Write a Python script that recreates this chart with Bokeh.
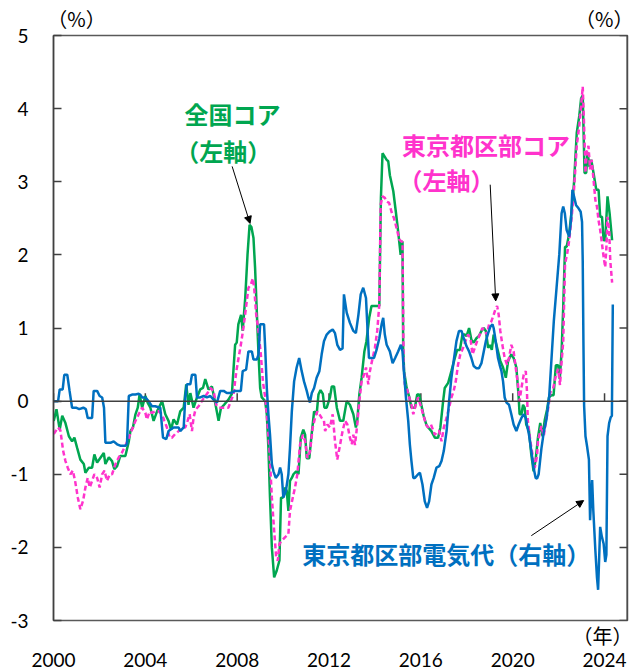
from bokeh.plotting import figure
from bokeh.models import Range1d, LinearAxis, FixedTicker, Label, Arrow, NormalHead, Span
from bokeh.embed import file_html
from bokeh.resources import INLINE

# ---- data (decimal year, % yoy) ----
x_ticks = [2000, 2004, 2008, 2012, 2016, 2020, 2024]
x_labels = ["2000", "2004", "2008", "2012", "2016", "2020", "2024"]
y_ticks = [-3, -2, -1, 0, 1, 2, 3, 4, 5]
y_labels = ["-3", "-2", "-1", "0", "1", "2", "3", "4", "5"]

green_x = [2000.01, 2000.13, 2000.27, 2000.38, 2000.52, 2000.67, 2000.81, 2000.91, 2001.03, 2001.17,
           2001.32, 2001.39, 2001.54, 2001.68, 2001.78, 2001.90, 2002.19, 2002.26, 2002.41, 2002.55,
           2002.65, 2002.77, 2002.91, 2003.13, 2003.28, 2003.35, 2003.46, 2003.57, 2003.67, 2003.75,
           2003.86, 2004.00, 2004.10, 2004.22, 2004.36, 2004.51, 2004.73, 2004.87, 2005.01, 2005.12,
           2005.23, 2005.38, 2005.52, 2005.67, 2005.78, 2005.88, 2005.96, 2006.10, 2006.25, 2006.39,
           2006.51, 2006.61, 2006.75, 2006.90, 2007.04, 2007.19, 2007.29, 2007.43, 2007.62, 2007.77,
           2007.91, 2007.98, 2008.05, 2008.17, 2008.24, 2008.35, 2008.45, 2008.54, 2008.62, 2008.71,
           2008.78, 2008.86, 2008.93, 2009.00, 2009.07, 2009.22, 2009.29, 2009.36, 2009.43, 2009.51,
           2009.61, 2009.72, 2009.84, 2009.91, 2009.99, 2010.09, 2010.16, 2010.23, 2010.30, 2010.38,
           2010.45, 2010.57, 2010.67, 2010.77, 2010.88, 2010.96, 2011.03, 2011.14, 2011.24, 2011.35,
           2011.46, 2011.54, 2011.63, 2011.73, 2011.80, 2011.90, 2012.04, 2012.12, 2012.22, 2012.34,
           2012.48, 2012.62, 2012.77, 2012.91, 2013.06, 2013.17, 2013.23, 2013.32, 2013.42, 2013.54,
           2013.63, 2013.75, 2013.85, 2014.07, 2014.19, 2014.26, 2014.33, 2014.43, 2014.51, 2014.58,
           2014.65, 2014.80, 2014.91, 2015.01, 2015.12, 2015.16, 2015.20, 2015.23, 2015.27, 2015.38,
           2015.50, 2015.59, 2015.74, 2015.84, 2015.93, 2016.02, 2016.12, 2016.25, 2016.32, 2016.46,
           2016.61, 2016.75, 2016.85, 2016.97, 2017.04, 2017.19, 2017.33, 2017.48, 2017.58, 2017.70,
           2017.81, 2017.91, 2017.99, 2018.10, 2018.20, 2018.30, 2018.42, 2018.53, 2018.64, 2018.74,
           2018.83, 2018.93, 2019.01, 2019.09, 2019.17, 2019.29, 2019.36, 2019.46, 2019.58, 2019.70,
           2019.80, 2019.94, 2020.04, 2020.16, 2020.26, 2020.30, 2020.38, 2020.45, 2020.52, 2020.59,
           2020.71, 2020.81, 2020.91, 2021.00, 2021.10, 2021.20, 2021.30, 2021.40, 2021.50, 2021.58,
           2021.68, 2021.78, 2021.88, 2021.98, 2022.05, 2022.13, 2022.20, 2022.28, 2022.35, 2022.46,
           2022.57, 2022.67, 2022.79, 2022.90, 2022.98, 2023.05, 2023.13, 2023.20, 2023.26, 2023.35,
           2023.42, 2023.52, 2023.64, 2023.74, 2023.81, 2023.89, 2023.96, 2024.03, 2024.13, 2024.22,
           2024.33]
green_y = [-0.27, -0.11, -0.39, -0.20, -0.30, -0.48, -0.55, -0.50, -0.64, -0.80,
           -0.86, -0.98, -0.91, -0.91, -0.73, -0.84, -0.71, -0.86, -0.77, -0.82,
           -0.93, -0.89, -0.75, -0.75, -0.55, -0.41, -0.36, -0.18, -0.09, 0.09,
           -0.09, 0.07, -0.02, -0.09, -0.27, -0.14, 0.00, -0.18, -0.27, -0.39,
           -0.25, -0.32, -0.14, -0.09, 0.23, -0.05, 0.11, -0.09, 0.05, 0.16,
           0.18, 0.30, 0.16, 0.20, -0.02, -0.27, -0.10, -0.05, 0.02, 0.10,
           0.77, 0.80, 1.05, 1.18, 0.96, 1.41, 2.00, 2.41, 2.38, 2.23,
           1.82, 1.18, 0.64, 0.18, 0.05, 0.00, -0.18, -0.64, -1.32, -2.00,
           -2.41, -2.32, -2.18, -1.32, -1.32, -1.18, -1.23, -1.50, -1.09, -1.05,
           -1.00, -0.96, -1.00, -0.50, -0.39, -0.46, -0.78, -0.78, -0.46, -0.14,
           -0.18, 0.09, 0.15, 0.10, -0.09, -0.09, 0.05, 0.20, 0.20, -0.09,
           -0.27, -0.27, 0.00, -0.05, -0.18, -0.36, -0.27, 0.09, 0.32, 0.68,
           0.82, 1.14, 1.30, 1.30, 1.30, 2.78, 3.39, 3.34, 3.30, 3.28,
           3.09, 2.87, 2.59, 2.32, 2.00, 2.18, 2.18, 0.73, 0.41, 0.18,
           0.05, -0.09, -0.09, 0.09, 0.09, -0.05, -0.20, -0.33, -0.36, -0.41,
           -0.50, -0.50, -0.36, 0.00, 0.18, 0.25, 0.41, 0.59, 0.70, 0.70,
           0.91, 0.91, 0.89, 1.00, 0.84, 0.80, 0.86, 0.89, 0.96, 1.00,
           0.96, 0.73, 0.77, 0.70, 0.91, 0.77, 0.68, 0.55, 0.46, 0.32,
           0.55, 0.64, 0.59, 0.46, 0.05, -0.18, -0.18, -0.05, -0.09, -0.32,
           -0.41, -0.73, -0.96, -0.80, -0.50, -0.30, -0.48, -0.25, -0.11, 0.05,
           0.08, 0.08, 0.49, 0.49, 0.30, 0.68, 1.28, 2.11, 2.11, 2.29,
           2.61, 2.98, 3.67, 3.90, 4.14, 4.18, 3.12, 3.12, 3.40, 3.20,
           3.30, 3.12, 2.89, 2.89, 2.52, 2.52, 2.20, 2.20, 2.80, 2.57,
           2.20]

pink_x = [2000.01, 2000.20, 2000.30, 2000.42, 2000.52, 2000.62, 2000.74, 2000.84, 2000.94, 2001.06,
          2001.17, 2001.29, 2001.39, 2001.49, 2001.58, 2001.68, 2001.78, 2001.90, 2002.01, 2002.12,
          2002.22, 2002.33, 2002.45, 2002.55, 2002.70, 2002.84, 2002.99, 2003.13, 2003.28, 2003.42,
          2003.57, 2003.71, 2003.86, 2004.00, 2004.07, 2004.19, 2004.29, 2004.43, 2004.58, 2004.73,
          2004.83, 2004.94, 2005.06, 2005.16, 2005.30, 2005.45, 2005.59, 2005.74, 2005.84, 2005.93,
          2006.03, 2006.10, 2006.18, 2006.32, 2006.46, 2006.61, 2006.71, 2006.83, 2006.97, 2007.09,
          2007.19, 2007.33, 2007.48, 2007.62, 2007.72, 2007.84, 2007.96, 2008.06, 2008.16, 2008.27,
          2008.38, 2008.49, 2008.59, 2008.68, 2008.74, 2008.83, 2008.93, 2009.03, 2009.12, 2009.22,
          2009.29, 2009.40, 2009.51, 2009.61, 2009.70, 2009.77, 2009.84, 2009.94, 2010.09, 2010.23,
          2010.30, 2010.42, 2010.52, 2010.62, 2010.74, 2010.86, 2010.96, 2011.06, 2011.17, 2011.29,
          2011.39, 2011.49, 2011.58, 2011.68, 2011.78, 2011.83, 2011.93, 2012.04, 2012.16, 2012.26,
          2012.36, 2012.48, 2012.59, 2012.70, 2012.80, 2012.91, 2012.99, 2013.06, 2013.13, 2013.23,
          2013.32, 2013.42, 2013.52, 2013.61, 2013.71, 2013.78, 2013.90, 2014.00, 2014.10, 2014.19,
          2014.25, 2014.33, 2014.43, 2014.51, 2014.62, 2014.72, 2014.83, 2014.94, 2015.06, 2015.16,
          2015.20, 2015.25, 2015.30, 2015.38, 2015.49, 2015.59, 2015.67, 2015.78, 2015.88, 2015.98,
          2016.10, 2016.22, 2016.32, 2016.44, 2016.61, 2016.71, 2016.80, 2016.90, 2017.00, 2017.12,
          2017.23, 2017.33, 2017.43, 2017.52, 2017.62, 2017.72, 2017.84, 2017.94, 2018.06, 2018.16,
          2018.25, 2018.35, 2018.45, 2018.57, 2018.68, 2018.78, 2018.88, 2018.97, 2019.07, 2019.17,
          2019.26, 2019.32, 2019.39, 2019.46, 2019.55, 2019.65, 2019.75, 2019.84, 2019.94, 2020.04,
          2020.13, 2020.23, 2020.30, 2020.38, 2020.48, 2020.57, 2020.62, 2020.66, 2020.77, 2020.88,
          2020.96, 2021.06, 2021.10, 2021.25, 2021.35, 2021.44, 2021.54, 2021.64, 2021.76, 2021.88,
          2021.98, 2022.06, 2022.13, 2022.20, 2022.28, 2022.37, 2022.46, 2022.57, 2022.67, 2022.79,
          2022.90, 2022.98, 2023.05, 2023.10, 2023.17, 2023.22, 2023.30, 2023.37, 2023.44, 2023.52,
          2023.60, 2023.67, 2023.74, 2023.81, 2023.89, 2023.96, 2024.03, 2024.08, 2024.13, 2024.20,
          2024.25, 2024.33]
pink_y = [-0.45, -0.36, -0.40, -0.68, -0.82, -0.91, -1.00, -0.95, -1.09, -1.32,
          -1.48, -1.36, -1.18, -1.05, -1.18, -1.09, -1.00, -1.05, -1.18, -1.00,
          -0.95, -1.09, -1.00, -1.00, -0.86, -0.77, -0.70, -0.61, -0.50, -0.39,
          -0.27, -0.18, -0.09, -0.16, -0.25, -0.14, -0.16, -0.14, -0.14, -0.18,
          -0.27, -0.36, -0.50, -0.50, -0.45, -0.41, -0.36, -0.36, -0.27, -0.18,
          -0.41, -0.23, -0.12, -0.07, 0.00, 0.07, 0.11, 0.18, 0.14, -0.05,
          -0.09, -0.09, -0.09, -0.09, 0.00, 0.09, 0.40, 0.59, 0.77, 1.00,
          1.27, 1.55, 1.59, 1.68, 1.55, 1.18, 0.95, 0.64, 0.27, 0.05,
          -0.18, -0.64, -1.32, -1.77, -2.14, -2.18, -1.95, -1.91, -1.86, -1.82,
          -1.50, -1.32, -1.18, -1.00, -0.59, -0.46, -0.55, -0.78, -0.69, -0.36,
          -0.23, -0.14, -0.18, -0.23, -0.27, -0.41, -0.32, -0.36, -0.18, -0.55,
          -0.80, -0.60, -0.41, -0.27, -0.32, -0.50, -0.59, -0.46, -0.60, -0.32,
          0.00, 0.27, 0.36, 0.46, 0.23, 0.41, 0.59, 0.73, 0.96, 1.32,
          2.69, 2.80, 2.78, 2.73, 2.71, 2.59, 2.50, 2.37, 2.21, 2.18,
          2.18, 0.50, 0.23, 0.18, 0.05, -0.05, -0.18, -0.05, 0.05, -0.05,
          -0.18, -0.32, -0.36, -0.32, -0.46, -0.41, -0.41, -0.55, -0.36, -0.23,
          -0.09, 0.05, 0.14, 0.27, 0.50, 0.64, 0.73, 0.82, 0.91, 0.86,
          0.64, 0.73, 0.82, 0.91, 1.00, 0.96, 0.91, 1.05, 1.09, 1.18,
          1.27, 1.30, 1.18, 0.96, 0.77, 0.59, 0.50, 0.59, 0.77, 0.68,
          0.46, 0.23, 0.00, 0.18, 0.36, 0.41, 0.14, -0.27, -0.55, -0.77,
          -0.91, -0.75, -0.55, -0.34, -0.48, -0.30, -0.11, 0.12, 0.17, 0.35,
          0.44, 0.22, 0.54, 0.81, 1.88, 2.01, 2.20, 2.52, 2.89, 3.49,
          3.77, 4.04, 4.30, 3.86, 3.12, 3.40, 3.49, 3.17, 3.30, 3.03,
          2.75, 2.66, 2.47, 2.34, 2.15, 1.97, 1.83, 2.10, 2.52, 2.34,
          1.92, 1.62]

blue_x = [2000.00, 2000.20, 2000.27, 2000.40, 2000.47, 2000.60, 2000.70, 2000.81, 2000.98, 2001.12,
          2001.30, 2001.41, 2001.49, 2001.68, 2001.75, 2001.90, 2002.01, 2002.12, 2002.20, 2002.26,
          2002.48, 2002.62, 2002.77, 2002.91, 2003.13, 2003.20, 2003.28, 2003.42, 2003.57, 2003.71,
          2003.78, 2003.86, 2004.00, 2004.14, 2004.29, 2004.43, 2004.65, 2004.77, 2004.91, 2005.01,
          2005.23, 2005.45, 2005.52, 2005.67, 2005.74, 2005.81, 2005.96, 2006.03, 2006.18, 2006.25,
          2006.39, 2006.54, 2006.68, 2006.83, 2006.97, 2007.12, 2007.26, 2007.41, 2007.55, 2007.70,
          2007.91, 2008.16, 2008.24, 2008.39, 2008.49, 2008.64, 2008.71, 2008.86, 2008.93, 2009.00,
          2009.17, 2009.22, 2009.29, 2009.36, 2009.43, 2009.51, 2009.58, 2009.68, 2009.80, 2009.87,
          2009.94, 2010.01, 2010.12, 2010.23, 2010.30, 2010.38, 2010.48, 2010.59, 2010.70, 2010.81,
          2010.91, 2011.03, 2011.10, 2011.17, 2011.25, 2011.35, 2011.46, 2011.58, 2011.68, 2011.78,
          2011.90, 2012.02, 2012.16, 2012.26, 2012.36, 2012.48, 2012.59, 2012.65, 2012.77, 2012.91,
          2013.06, 2013.17, 2013.28, 2013.38, 2013.49, 2013.61, 2013.68, 2013.74, 2013.85, 2013.96,
          2014.07, 2014.19, 2014.29, 2014.36, 2014.43, 2014.51, 2014.65, 2014.77, 2014.88, 2015.01,
          2015.13, 2015.20, 2015.26, 2015.35, 2015.45, 2015.52, 2015.59, 2015.67, 2015.74, 2015.88,
          2015.96, 2016.07, 2016.17, 2016.27, 2016.36, 2016.46, 2016.56, 2016.68, 2016.80, 2016.90,
          2017.00, 2017.12, 2017.23, 2017.33, 2017.43, 2017.55, 2017.66, 2017.77, 2017.87, 2017.99,
          2018.10, 2018.20, 2018.30, 2018.42, 2018.53, 2018.64, 2018.74, 2018.83, 2018.93, 2019.03,
          2019.12, 2019.17, 2019.26, 2019.36, 2019.43, 2019.51, 2019.58, 2019.65, 2019.73, 2019.84,
          2019.94, 2020.04, 2020.16, 2020.26, 2020.38, 2020.48, 2020.57, 2020.62, 2020.71, 2020.81,
          2020.91, 2021.00, 2021.06, 2021.13, 2021.25, 2021.35, 2021.47, 2021.59, 2021.69, 2021.79,
          2021.91, 2022.03, 2022.13, 2022.20, 2022.27, 2022.35, 2022.46, 2022.54, 2022.60, 2022.67,
          2022.76, 2022.86, 2022.96, 2023.02, 2023.05, 2023.08, 2023.11, 2023.17, 2023.24, 2023.32,
          2023.37, 2023.41, 2023.46, 2023.51, 2023.60, 2023.67, 2023.72, 2023.81, 2023.88, 2023.96,
          2024.03, 2024.08, 2024.13, 2024.20, 2024.27, 2024.32, 2024.36]
blue_y = [0.00, 0.00, 0.16, 0.16, 0.36, 0.36, 0.14, -0.09, -0.09, -0.11,
          -0.09, -0.11, -0.23, -0.23, 0.14, 0.14, 0.07, 0.05, -0.09, -0.57,
          -0.57, -0.55, -0.59, -0.61, -0.61, -0.59, 0.07, 0.09, 0.09, 0.10,
          0.09, 0.05, 0.05, 0.00, -0.07, -0.07, -0.09, -0.50, -0.52, -0.41,
          -0.36, -0.36, -0.41, -0.36, 0.05, 0.23, 0.23, 0.36, 0.36, 0.05,
          0.05, 0.07, 0.05, 0.07, 0.02, -0.02, 0.14, 0.14, 0.11, 0.11,
          0.14, 0.14, 0.41, 0.43, 0.68, 0.68, 0.57, 0.57, 0.64, 1.05,
          1.05, 0.73, 0.18, -0.18, -0.46, -0.86, -0.96, -1.05, -1.00, -0.91,
          -1.00, -1.32, -1.23, -1.00, -0.64, -0.14, 0.27, 0.46, 0.59, 0.41,
          0.27, 0.14, 0.05, -0.02, 0.11, 0.18, 0.32, 0.41, 0.64, 0.82,
          0.91, 0.95, 0.98, 0.93, 0.77, 0.70, 0.72, 1.46, 1.21, 1.07,
          0.96, 0.93, 1.18, 1.46, 1.55, 1.41, 0.96, 0.59, 0.59, 0.59,
          0.70, 0.86, 1.05, 1.14, 0.91, 0.77, 0.68, 0.52, 0.59, 0.68,
          0.77, 0.68, 0.41, 0.05, -0.27, -0.59, -0.82, -1.05, -1.05, -1.00,
          -0.98, -1.14, -1.37, -1.46, -1.37, -1.14, -1.05, -0.91, -0.89, -0.82,
          -0.68, -0.41, 0.00, 0.32, 0.55, 0.82, 0.96, 0.96, 0.86, 0.75,
          0.68, 0.59, 0.48, 0.45, 0.45, 0.52, 0.68, 0.82, 0.93, 1.02,
          1.05, 1.00, 0.82, 0.59, 0.50, 0.41, 0.27, 0.05, -0.02, -0.05,
          -0.18, -0.32, -0.41, -0.32, -0.23, -0.18, -0.23, -0.32, -0.46, -0.68,
          -0.91, -1.05, -1.06, -1.00, -0.65, -0.43, -0.25, 0.07, 0.58, 1.09,
          1.55, 2.01, 2.57, 2.66, 2.57, 2.34, 2.25, 2.48, 2.89, 2.80,
          2.68, 2.64, 2.59, 2.45, 1.92, 0.82, -0.06, -0.48, -0.62, -0.80,
          -1.63, -1.35, -1.08, -1.49, -2.04, -2.41, -2.58, -1.72, -1.85, -1.95,
          -2.20, -2.10, -0.48, -0.30, -0.22, -0.20, 1.32]

# unit-label positions (x in years)
unit_pct_ticks = [2001.0, 2024.05]
unit_pct_labels = ["（%）", "（%）"]
unit_year_ticks = [2024.0]
unit_year_labels = ["（年）"]

GREEN = "#00A650"
PINK = "#FF33CC"
BLUE = "#0070C0"
AXIS = "#404040"
NUM_FONT = "Lato"
JP_FONT = "Noto Sans CJK JP"

X0, X1 = 2000, 2025
Y0, Y1 = -3, 5
W, H = 633, 669
BL, BR, BT, BB = 53, 6, 34, 49
FRAME_W = W - BL - BR
FRAME_H = H - BT - BB
TICK_PX = 8

p = figure(width=W, height=H, x_range=Range1d(X0, X1), y_range=Range1d(Y0, Y1),
           output_backend="svg", toolbar_location=None,
           min_border_left=BL, min_border_right=BR, min_border_top=BT, min_border_bottom=BB)
p.extra_y_ranges = {"right": Range1d(Y0, Y1)}
p.grid.visible = False
p.outline_line_color = "#595959"
p.outline_line_width = 1.5
p.background_fill_color = "white"
p.border_fill_color = "white"

# bottom axis: year labels only
xa = p.xaxis[0]
xa.ticker = FixedTicker(ticks=x_ticks)
xa.major_label_overrides = {t: l for t, l in zip(x_ticks, x_labels)}
xa.major_tick_in = 0
xa.major_tick_out = 0
xa.minor_tick_in = 0
xa.minor_tick_out = 0
xa.axis_line_color = None
xa.major_label_standoff = 0
xa.major_label_text_font = NUM_FONT
xa.major_label_text_font_size = "19px"
xa.major_label_text_color = "black"

# "(年)" row between frame and year labels
nen = LinearAxis(ticker=FixedTicker(ticks=unit_year_ticks),
                 major_label_overrides={t: l for t, l in zip(unit_year_ticks, unit_year_labels)},
                 major_tick_in=0, major_tick_out=0, minor_tick_in=0, minor_tick_out=0,
                 axis_line_color=None, major_label_standoff=0,
                 major_label_text_font=JP_FONT, major_label_text_font_size="20px",
                 major_label_text_color="black")
p.add_layout(nen, "below")
p.below = [nen, xa]

# "(%)" labels above the frame
top = LinearAxis(ticker=FixedTicker(ticks=unit_pct_ticks),
                 major_label_overrides={t: l for t, l in zip(unit_pct_ticks, unit_pct_labels)},
                 major_tick_in=0, major_tick_out=0, minor_tick_in=0, minor_tick_out=0,
                 axis_line_color=None, major_label_standoff=3,
                 major_label_text_font=JP_FONT, major_label_text_font_size="20px",
                 major_label_text_color="black")
p.add_layout(top, "above")

# left axis
ya = p.yaxis[0]
ya.ticker = FixedTicker(ticks=y_ticks)
ya.major_label_overrides = {t: l for t, l in zip(y_ticks, y_labels)}
ya.major_tick_in = TICK_PX
ya.major_tick_out = 0
ya.minor_tick_in = 0
ya.minor_tick_out = 0
ya.axis_line_color = AXIS
ya.axis_line_width = 1.5
ya.major_tick_line_color = AXIS
ya.major_tick_line_width = 1.5
ya.major_label_standoff = 25
ya.major_label_text_font = NUM_FONT
ya.major_label_text_font_size = "19px"
ya.major_label_text_color = "black"

# zero line with its tick marks, and right-axis tick marks
p.add_layout(Span(location=0, dimension="width", line_color=AXIS, line_width=1.5))
tick_dy = TICK_PX * (Y1 - Y0) / FRAME_H
tick_dx = TICK_PX * (X1 - X0) / FRAME_W
p.segment(x0=x_ticks, y0=[0] * len(x_ticks), x1=x_ticks, y1=[tick_dy] * len(x_ticks),
          line_color=AXIS, line_width=1.5)
p.segment(x0=[X1] * len(y_ticks), y0=y_ticks, x1=[X1 - tick_dx] * len(y_ticks), y1=y_ticks,
          line_color=AXIS, line_width=1.5, y_range_name="right")
p.segment(x0=[X1], y0=[Y0], x1=[X1], y1=[Y1], line_color=AXIS, line_width=2, y_range_name="right")

# series
p.line(green_x, green_y, line_color=GREEN, line_width=2.5)
p.line(pink_x, pink_y, line_color=PINK, line_width=2.5, line_dash="5 3")
p.line(blue_x, blue_y, line_color=BLUE, line_width=2.5, y_range_name="right")

# annotations
def jp_label(x, y, text, color):
    p.add_layout(Label(x=x, y=y, text=text, text_font=JP_FONT, text_font_size="24px",
                       text_font_style="bold", text_align="center", text_baseline="middle",
                       text_color=color))

jp_label(2007.80, 3.93, "全国コア", GREEN)
jp_label(2007.39, 3.43, "（左軸）", GREEN)
jp_label(2018.84, 3.51, "東京都区部コア", PINK)
jp_label(2017.12, 3.03, "（左軸）", PINK)
jp_label(2017.11, -2.09, "東京都区部電気代（右軸）", BLUE)

def arrow(x0, y0, x1, y1):
    p.add_layout(Arrow(end=NormalHead(size=7, fill_color="black", line_color="black"),
                       x_start=x0, y_start=y0, x_end=x1, y_end=y1,
                       line_color="black", line_width=1))

arrow(2007.78, 3.21, 2008.56, 2.43)
arrow(2019.02, 2.96, 2019.26, 1.37)
arrow(2020.81, -1.84, 2023.09, -1.36)

open("out.html", "w").write(file_html(p, INLINE))
